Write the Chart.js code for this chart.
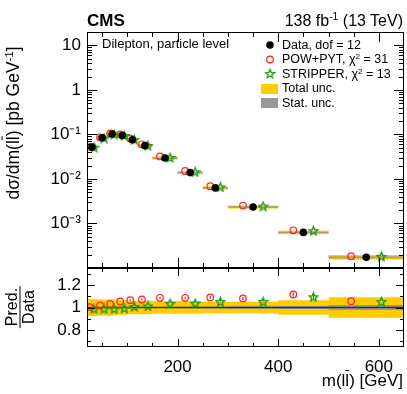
<!DOCTYPE html>
<html>
<head>
<meta charset="utf-8">
<script src="https://cdn.jsdelivr.net/npm/chart.js@4.4.1/dist/chart.umd.min.js"></script>
<style>
  body { margin: 0; background: #fff; }
  #wrap { position: relative; width: 407px; height: 394px; font-family: "Liberation Sans", Arial, sans-serif; color: #000; }
  #wrap canvas { position: absolute; left: 0; }
  .t { position: absolute; white-space: nowrap; line-height: 1; }
  .ol { text-decoration: overline; }
  .sup { font-size: 0.65em; vertical-align: 0.55em; }
  .rot { transform: translate(-50%, -50%) rotate(-90deg); }
  .frac { display: inline-block; text-align: center; }
  .frac span { display: block; padding: 0 2px; }
  .frac .den { border-top: 1px solid #000; }
</style>
</head>
<body>
<div id="wrap">
  <canvas id="topChart" width="407" height="268" style="top:0"></canvas>
  <canvas id="ratioChart" width="407" height="126" style="top:268px"></canvas>

  <div class="t" style="left:87px;top:12px;font-size:17px;font-weight:bold">CMS</div>
  <div class="t" style="right:4px;top:12px;font-size:16px">138 fb<span class="sup">-1</span> (13 TeV)</div>
  <div class="t" style="left:102px;top:37px;font-size:13px">Dilepton, particle level</div>

  <div class="t" style="left:282px;top:39px;font-size:12.5px">Data, dof = 12</div>
  <div class="t" style="left:282px;top:53px;font-size:12.5px">POW+PYT, χ<span class="sup">2</span> = 31</div>
  <div class="t" style="left:282px;top:68px;font-size:12.5px">STRIPPER, χ<span class="sup">2</span> = 13</div>
  <div class="t" style="left:282px;top:82px;font-size:12.5px">Total unc.</div>
  <div class="t" style="left:282px;top:97px;font-size:12.5px">Stat. unc.</div>

  <div class="t rot" style="left:13px;top:123px;font-size:17.5px">dσ/dm(l<span class="ol">l</span>) [pb GeV<span class="sup">-1</span>]</div>
  <div class="t rot" style="left:20px;top:307px;font-size:16px"><div class="frac"><span>Pred.</span><span class="den">Data</span></div></div>
  <div class="t" style="right:4px;top:372px;font-size:17px">m(l<span class="ol">l</span>) [GeV]</div>
</div>

<script>
// bin edges in m(ll) [GeV]
const edges = [20, 40, 60, 80, 100, 120, 150, 200, 250, 300, 400, 500, 650];
// measured cross section [pb/GeV]
const dataVals = [0.052, 0.084, 0.102, 0.095, 0.076, 0.056, 0.0295, 0.0139, 0.0063, 0.00234, 0.00063, 0.000174];
// predictions [pb/GeV]
const powVals = [0.0522, 0.0855, 0.105, 0.100, 0.081, 0.060, 0.032, 0.0151, 0.00686, 0.00253, 0.000702, 0.000184];
const strVals = [0.0514, 0.083, 0.101, 0.0944, 0.0767, 0.0568, 0.0305, 0.01443, 0.00663, 0.00246, 0.00069, 0.000183];
// ratios to data
const powRatio = [1.003, 1.018, 1.032, 1.053, 1.065, 1.071, 1.086, 1.086, 1.089, 1.080, 1.115, 1.056];
const strRatio = [0.988, 0.988, 0.988, 0.994, 1.009, 1.014, 1.035, 1.038, 1.053, 1.053, 1.095, 1.053];
const powRatioErr = [0.012, 0.01, 0.01, 0.01, 0.01, 0.01, 0.01, 0.01, 0.012, 0.015, 0.02, 0.02];
const strRatioErr = [0.02, 0.02, 0.02, 0.02, 0.02, 0.02, 0.02, 0.02, 0.02, 0.02, 0.025, 0.02];
// relative uncertainties of the data
const totUnc = [0.075, 0.07, 0.07, 0.065, 0.06, 0.06, 0.055, 0.055, 0.05, 0.05, 0.065, 0.09];
const statUnc = [0.004, 0.004, 0.004, 0.004, 0.004, 0.005, 0.005, 0.006, 0.008, 0.01, 0.013, 0.022];

const topTicks = [1e-3, 1e-2, 1e-1, 1, 10];
const topTickLabels = ["10⁻³", "10⁻²", "10⁻¹", "1", "10"];
const ratioTicks = [0.8, 1, 1.2];
const ratioTickLabels = ["0.8", "1", "1.2"];
const massTicks = [200, 400, 600];

const FONT = "Liberation Sans";
const YELLOW = "#ffcc00";
const GREY = "#999999";
const RED = "#ff2020";
const GREEN = "#1f9a1f";

const centers = edges.slice(0, -1).map((e, i) => (e + edges[i + 1]) / 2);
const widths = edges.slice(0, -1).map((e, i) => edges[i + 1] - e);
const powX = centers.map((c, i) => c - 0.2 * widths[i]);
const strX = centers.map((c, i) => c + 0.2 * widths[i]);

function starCanvas(size) {
  const c = document.createElement("canvas");
  c.width = size; c.height = size;
  const g = c.getContext("2d");
  const r = size / 2 - 1, ri = r * 0.45, cx = size / 2, cy = size / 2 + 0.5;
  g.beginPath();
  for (let k = 0; k < 10; k++) {
    const rr = k % 2 ? ri : r;
    const a = -Math.PI / 2 + k * Math.PI / 5;
    g.lineTo(cx + rr * Math.cos(a), cy + rr * Math.sin(a));
  }
  g.closePath();
  g.strokeStyle = GREEN;
  g.lineWidth = 1.4;
  g.stroke();
  return c;
}
const star = starCanvas(11);

function strip(vals, unc, sign) {
  const pts = [];
  vals.forEach((v, i) => {
    const y = v * (1 + sign * unc[i]);
    pts.push({ x: edges[i], y }, { x: edges[i + 1], y }, { x: edges[i + 1], y: null });
  });
  return pts;
}

function steps(unc, sign) {
  const pts = unc.map((u, i) => ({ x: edges[i], y: 1 + sign * u }));
  pts.push({ x: edges[edges.length - 1], y: 1 + sign * unc[unc.length - 1] });
  return pts;
}

function band(data, color, fill, order, width) {
  return { data, borderColor: color, backgroundColor: color, borderWidth: width, pointRadius: 0, fill, order, spanGaps: false };
}

// keep the plot area where we put it: no extra room for edge labels
function fixWidth(w) {
  return (s) => { s.width = w; s.paddingTop = 0; s.paddingBottom = 0; };
}
function fixHeight(h) {
  return (s) => { s.height = h; s.paddingLeft = 0; s.paddingRight = 0; };
}

// inward ticks and frame, ROOT style
function framePlugin(yMinor, yMajorLen, yMinorLen, xMajorLen, xMinorLen) {
  return {
    id: "frame",
    afterDatasetsDraw(chart) {
      const { ctx, chartArea: a, scales } = chart;
      const x = scales.x, y = scales.y;
      ctx.save();
      ctx.strokeStyle = "#000";
      ctx.lineWidth = 1;
      ctx.beginPath();
      for (let v = 50; v <= 650; v += 50) {
        if (v <= x.min || v >= x.max) continue;
        const px = Math.round(x.getPixelForValue(v)) + 0.5;
        const len = massTicks.includes(v) ? xMajorLen : xMinorLen;
        ctx.moveTo(px, a.bottom); ctx.lineTo(px, a.bottom - len);
        ctx.moveTo(px, a.top); ctx.lineTo(px, a.top + len);
      }
      yMinor(y).forEach(([v, major]) => {
        const py = Math.round(y.getPixelForValue(v)) + 0.5;
        const len = major ? yMajorLen : yMinorLen;
        ctx.moveTo(a.left, py); ctx.lineTo(a.left + len, py);
        ctx.moveTo(a.right, py); ctx.lineTo(a.right - len, py);
      });
      ctx.stroke();
      ctx.strokeRect(a.left + 0.5, a.top + 0.5, a.right - a.left - 1, a.bottom - a.top - 1);
      ctx.restore();
    }
  };
}

const legendPlugin = {
  id: "legendMarks",
  afterDraw(chart) {
    const ctx = chart.ctx;
    ctx.save();
    ctx.fillStyle = "#000";
    ctx.beginPath(); ctx.arc(270, 45, 3.8, 0, 2 * Math.PI); ctx.fill();
    ctx.strokeStyle = RED; ctx.lineWidth = 1.2;
    ctx.beginPath(); ctx.arc(270, 59.5, 3.3, 0, 2 * Math.PI); ctx.stroke();
    ctx.drawImage(star, 264.5, 68);
    ctx.fillStyle = YELLOW; ctx.fillRect(261, 84, 17, 10);
    ctx.fillStyle = GREY; ctx.fillRect(261, 98, 17, 10);
    ctx.restore();
  }
};

function errPlugin(sets) {
  return {
    id: "errBars",
    beforeDatasetsDraw(chart) {
      const { ctx, scales: { y } } = chart;
      ctx.save();
      sets.forEach(([idx, vals, errs, color]) => {
        const meta = chart.getDatasetMeta(idx);
        ctx.strokeStyle = color; ctx.lineWidth = 1.2;
        ctx.beginPath();
        meta.data.forEach((pt, j) => {
          ctx.moveTo(pt.x, y.getPixelForValue(vals[j] - errs[j]));
          ctx.lineTo(pt.x, y.getPixelForValue(vals[j] + errs[j]));
        });
        ctx.stroke();
      });
      ctx.restore();
    }
  };
}

const noGrid = { display: false, drawTicks: false };

new Chart(document.getElementById("topChart"), {
  type: "line",
  data: {
    datasets: [
      { data: centers.map((c, i) => ({ x: c, y: dataVals[i] })), showLine: false, pointRadius: 3.8, pointBackgroundColor: "#000", pointBorderWidth: 0, order: 0 },
      { data: strX.map((c, i) => ({ x: c, y: strVals[i] })), showLine: false, pointStyle: star, order: 1 },
      { data: powX.map((c, i) => ({ x: c, y: powVals[i] })), showLine: false, pointRadius: 3.3, pointBorderColor: RED, pointBorderWidth: 1.2, pointBackgroundColor: "rgba(0,0,0,0)", order: 2 },
      band(strip(dataVals, statUnc, 1), GREY, false, 3, 0.8),
      band(strip(dataVals, statUnc, -1), GREY, "-1", 3, 0.8),
      band(strip(dataVals, totUnc, 1), YELLOW, false, 5, 1),
      band(strip(dataVals, totUnc, -1), YELLOW, "-1", 5, 1)
    ]
  },
  options: {
    responsive: false,
    animation: false,
    layout: { autoPadding: false, padding: { top: 32, right: 3, left: 0, bottom: 0 } },
    plugins: { legend: { display: false }, tooltip: { enabled: false } },
    scales: {
      x: { type: "linear", min: 20, max: 650, display: false },
      y: {
        type: "logarithmic", min: 1e-4, max: 20,
        grid: noGrid, border: { display: false },
        afterFit: fixWidth(87),
        afterBuildTicks: (s) => { s.ticks = topTicks.map((v) => ({ value: v })); },
        ticks: {
          padding: 6, color: "#000", font: { family: FONT, size: 17 },
          callback: (v) => topTickLabels[topTicks.findIndex((t) => Math.abs(t - v) / t < 1e-6)] ?? ""
        }
      }
    }
  },
  plugins: [
    framePlugin((y) => {
      const out = [];
      for (let k = -4; k <= 1; k++) for (let m = 1; m <= 9; m++) {
        const v = m * Math.pow(10, k);
        if (v > y.min && v < y.max) out.push([v, m === 1]);
      }
      return out;
    }, 10, 5, 10, 5),
    legendPlugin
  ]
});

new Chart(document.getElementById("ratioChart"), {
  type: "line",
  data: {
    datasets: [
      { data: powX.map((c, i) => ({ x: c, y: powRatio[i] })), showLine: false, pointRadius: 3.3, pointBorderColor: RED, pointBorderWidth: 1.2, pointBackgroundColor: "rgba(0,0,0,0)", order: 0 },
      { data: strX.map((c, i) => ({ x: c, y: strRatio[i] })), showLine: false, pointStyle: star, order: 1 },
      { data: [{ x: 20, y: 1 }, { x: 650, y: 1 }], borderColor: "#333", borderWidth: 1.3, pointRadius: 0, order: 2 },
      { data: steps(statUnc, 1), stepped: true, borderWidth: 0, pointRadius: 0, backgroundColor: GREY, fill: false, order: 3 },
      { data: steps(statUnc, -1), stepped: true, borderWidth: 0, pointRadius: 0, backgroundColor: GREY, fill: "-1", order: 3 },
      { data: steps(totUnc, 1), stepped: true, borderWidth: 0, pointRadius: 0, backgroundColor: YELLOW, fill: false, order: 5 },
      { data: steps(totUnc, -1), stepped: true, borderWidth: 0, pointRadius: 0, backgroundColor: YELLOW, fill: "-1", order: 5 }
    ]
  },
  options: {
    responsive: false,
    animation: false,
    layout: { autoPadding: false, padding: { top: 0, right: 3, left: 0, bottom: 0 } },
    plugins: { legend: { display: false }, tooltip: { enabled: false } },
    scales: {
      x: {
        type: "linear", min: 20, max: 650,
        grid: noGrid, border: { display: false },
        afterFit: fixHeight(47),
        afterBuildTicks: (s) => { s.ticks = massTicks.map((v) => ({ value: v })); },
        ticks: { padding: 10, maxRotation: 0, color: "#000", font: { family: FONT, size: 17 } }
      },
      y: {
        type: "linear", min: 0.65, max: 1.35,
        grid: noGrid, border: { display: false },
        afterFit: fixWidth(87),
        afterBuildTicks: (s) => { s.ticks = ratioTicks.map((v) => ({ value: v })); },
        ticks: {
          padding: 6, color: "#000", font: { family: FONT, size: 17 },
          callback: (v) => ratioTickLabels[ratioTicks.findIndex((t) => Math.abs(t - v) < 1e-6)] ?? ""
        }
      }
    }
  },
  plugins: [
    framePlugin(() => [0.7, 0.8, 0.9, 1.0, 1.1, 1.2, 1.3].map((v) => [v, ratioTicks.some((t) => Math.abs(t - v) < 1e-6)]), 8, 4, 8, 4),
    errPlugin([[0, powRatio, powRatioErr, RED], [1, strRatio, strRatioErr, GREEN]])
  ]
});
</script>
</body>
</html>
